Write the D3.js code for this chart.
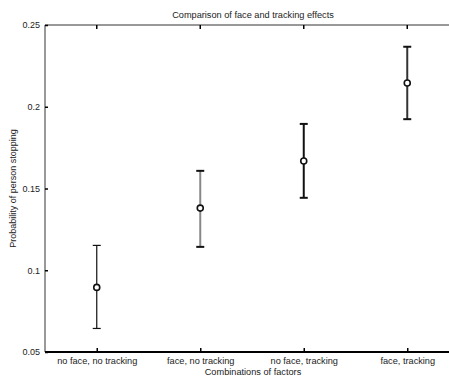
<!DOCTYPE html>
<html>
<head>
<meta charset="utf-8">
<script src="https://cdnjs.cloudflare.com/ajax/libs/d3/7.8.5/d3.min.js"></script>
<style>
  body { margin: 0; background: #fff; }
  svg { font-family: "Liberation Sans", Arial, sans-serif; }
</style>
</head>
<body>
<div id="chart"></div>
<script>
const categories = ['no face, no tracking', 'face, no tracking', 'no face, tracking', 'face, tracking'];
const means = [0.0895, 0.138, 0.1668, 0.2145];
const upper = [0.1152, 0.1608, 0.1895, 0.2367];
const lower = [0.0644, 0.1143, 0.1443, 0.1924];
const yTicks = [0.05, 0.1, 0.15, 0.2, 0.25];
// bars as they appear in the scan: thin black, grey, black, dark
const barColors = ['#111', '#888', '#111', '#333'];
const barWidths = [1.2, 2, 2, 2];

const W = 449, H = 377;
const margin = { top: 25, right: -10, bottom: 25, left: 45 };
const width = W - margin.left - margin.right;
const height = H - margin.top - margin.bottom;

const svg = d3.select('#chart').append('svg')
  .attr('width', W).attr('height', H);

const g = svg.append('g')
  .attr('transform', `translate(${margin.left},${margin.top})`);

const x = d3.scaleLinear().domain([0.5, 4.5]).range([0, width]);
const y = d3.scaleLinear().domain([0.05, 0.25]).range([height, 0]);

const data = categories.map((c, i) => ({ c, i: i + 1, m: means[i], hi: upper[i], lo: lower[i] }));

// frame
g.append('line').attr('x1', 0).attr('x2', width).attr('y1', 0).attr('y2', 0)
  .attr('stroke', '#333').attr('stroke-width', 1);
g.append('line').attr('x1', 0).attr('x2', 0).attr('y1', 0).attr('y2', height)
  .attr('stroke', '#555').attr('stroke-width', 1.2);
g.append('line').attr('x1', 0).attr('x2', width).attr('y1', height).attr('y2', height)
  .attr('stroke', '#000').attr('stroke-width', 2);

// y axis
const yAxis = g.append('g')
  .call(d3.axisLeft(y).tickValues(yTicks).tickSize(-3).tickPadding(5).tickFormat(d3.format('')));
yAxis.select('.domain').remove();
yAxis.selectAll('line').attr('stroke', '#000').attr('stroke-width', 1.5);
yAxis.selectAll('text').attr('font-size', 9).attr('fill', '#222')
  .attr('font-family', '"Liberation Sans", Arial, sans-serif');

// x axis
const xAxis = g.append('g').attr('transform', `translate(0,${height})`)
  .call(d3.axisBottom(x).tickValues([1, 2, 3, 4]).tickSize(-4).tickPadding(5)
    .tickFormat(d => categories[d - 1]));
xAxis.select('.domain').remove();
xAxis.selectAll('line').attr('stroke', '#000').attr('stroke-width', 1.5);
xAxis.selectAll('text').attr('font-size', 9.2).attr('fill', '#222')
  .attr('font-family', '"Liberation Sans", Arial, sans-serif');

// top ticks
g.selectAll('.ttick').data([1, 2, 3, 4]).enter().append('line')
  .attr('x1', d => x(d)).attr('x2', d => x(d)).attr('y1', 0).attr('y2', 4)
  .attr('stroke', '#000').attr('stroke-width', 1.5);

// error bars
const bars = g.selectAll('.eb').data(data).enter().append('g');
bars.append('line')
  .attr('x1', d => x(d.i)).attr('x2', d => x(d.i))
  .attr('y1', d => y(d.hi)).attr('y2', d => y(d.lo))
  .attr('stroke', (d, i) => barColors[i]).attr('stroke-width', (d, i) => barWidths[i]);
bars.append('line')
  .attr('x1', d => x(d.i) - 4).attr('x2', d => x(d.i) + 4)
  .attr('y1', d => y(d.hi)).attr('y2', d => y(d.hi))
  .attr('stroke', '#111').attr('stroke-width', (d, i) => barWidths[i]);
bars.append('line')
  .attr('x1', d => x(d.i) - 4).attr('x2', d => x(d.i) + 4)
  .attr('y1', d => y(d.lo)).attr('y2', d => y(d.lo))
  .attr('stroke', '#111').attr('stroke-width', (d, i) => barWidths[i]);
bars.append('circle')
  .attr('cx', d => x(d.i)).attr('cy', d => y(d.m)).attr('r', 3)
  .attr('fill', '#fff').attr('stroke', '#111').attr('stroke-width', 1.6);

// title and labels
svg.append('text').attr('x', 253).attr('y', 18).attr('text-anchor', 'middle')
  .attr('font-size', 9.2).attr('fill', '#222').text('Comparison of face and tracking effects');
svg.append('text').attr('x', 253).attr('y', 374.5).attr('text-anchor', 'middle')
  .attr('font-size', 9.2).attr('fill', '#222').text('Combinations of factors');
svg.append('text').attr('transform', `translate(16,${margin.top + height / 2}) rotate(-90)`)
  .attr('text-anchor', 'middle').attr('font-size', 9).attr('fill', '#222')
  .text('Probability of person stopping');
</script>
</body>
</html>
